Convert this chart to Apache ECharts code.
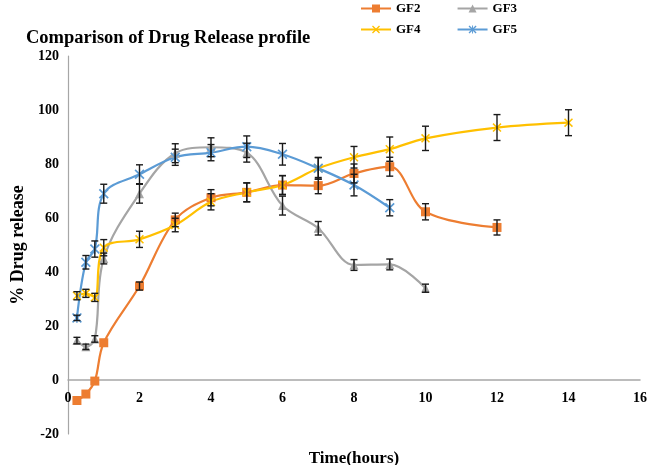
<!DOCTYPE html>
<html>
<head>
<meta charset="utf-8">
<script src="https://cdn.jsdelivr.net/npm/echarts@6/dist/echarts.min.js"></script>
<style>html,body{margin:0;padding:0;background:#fff}#c{width:654px;height:465px}</style>
</head>
<body>
<div id="c"></div>
<script>
var seriesNames = ['GF2', 'GF3', 'GF4', 'GF5'];
var gf2Time = [0.25, 0.5, 0.75, 1, 2, 3, 4, 5, 6, 7, 8, 9, 10, 12];
var gf2Vals = [-7.6, -5.2, -0.4, 13.8, 34.8, 59.3, 67.5, 69.5, 72.2, 72.0, 76.5, 79.0, 62.3, 56.5];
var gf2Err  = [0, 0, 0, 0, 1.5, 2.5, 3, 3.5, 3.5, 3, 3.5, 3.5, 3, 2.8];
var gf3Time = [0.25, 0.5, 0.75, 1, 2, 3, 4, 5, 6, 7, 8, 9, 10];
var gf3Vals = [14.6, 12.3, 15.2, 45.0, 69.0, 84.0, 86.2, 84.2, 64.6, 56.2, 42.6, 42.8, 34.0];
var gf3Err  = [1.2, 1, 1.2, 2, 3.5, 3.5, 3.5, 3.5, 3.5, 2.5, 2, 2, 1.5];
var gf4Time = [0.25, 0.5, 0.75, 1, 2, 3, 4, 5, 6, 7, 8, 9, 10, 12, 14];
var gf4Vals = [31.2, 32.1, 30.6, 49.0, 52.1, 57.4, 66.0, 69.5, 72.2, 78.4, 82.5, 85.5, 89.5, 93.5, 95.3];
var gf4Err  = [1.5, 1.5, 1.5, 3, 3, 2.5, 3, 3.5, 3.5, 4, 4, 4.5, 4.5, 4.8, 4.8];
var gf5Time = [0.25, 0.5, 0.75, 1, 2, 3, 4, 5, 6, 7, 8, 9];
var gf5Vals = [23.0, 43.6, 48.5, 69.0, 76.2, 82.5, 84.2, 86.4, 83.6, 78.4, 72.2, 63.8];
var gf5Err  = [1, 2.5, 3, 3.5, 3.5, 3, 3, 4, 4, 4, 4, 3];
var xTicks = [0, 2, 4, 6, 8, 10, 12, 14, 16];
var yTicks = [-20, 0, 20, 40, 60, 80, 100, 120];

var colors = ['#ED7D31', '#A5A5A5', '#FFC000', '#5B9BD5'];
var xSym = 'path://M0,1.2 L1.2,0 L5,3.8 L8.8,0 L10,1.2 L6.2,5 L10,8.8 L8.8,10 L5,6.2 L1.2,10 L0,8.8 L3.8,5 Z';
var aSym = 'path://M0,1.2 L1.2,0 L5,3.8 L8.8,0 L10,1.2 L6.2,5 L10,8.8 L8.8,10 L5,6.2 L1.2,10 L0,8.8 L3.8,5 Z M4.4,0 L5.6,0 L5.6,10 L4.4,10 Z';
var symbols = ['rect', 'triangle', xSym, aSym];
var symSizes = [9, 9, 9, 10];

var times = [gf2Time, gf3Time, gf4Time, gf5Time];
var vals = [gf2Vals, gf3Vals, gf4Vals, gf5Vals];
var errs = [gf2Err, gf3Err, gf4Err, gf5Err];

function pairs(t, v) { return t.map(function (x, i) { return [x, v[i]]; }); }

var font = 'Liberation Serif';
var series = [];
seriesNames.forEach(function (n, k) {
  series.push({
    name: n, type: 'line', smooth: 0.35,
    data: pairs(times[k], vals[k]),
    symbol: symbols[k], symbolSize: symSizes[k],
    lineStyle: { color: colors[k], width: 2.2 },
    itemStyle: { color: colors[k] },
    z: 2
  });
});
seriesNames.forEach(function (n, k) {
  var d = times[k].map(function (x, i) { return [x, vals[k][i] - errs[k][i], vals[k][i] + errs[k][i]]; })
    .filter(function (p) { return p[2] - p[1] > 0; });
  series.push({
    type: 'custom', name: n + ' err', silent: true, z: 5,
    data: d,
    encode: { x: 0, y: [1, 2] },
    renderItem: function (params, api) {
      var lo = api.coord([api.value(0), api.value(1)]);
      var hi = api.coord([api.value(0), api.value(2)]);
      var w = 3.5;
      var st = { stroke: '#1a1a1a', lineWidth: 1.4 };
      return { type: 'group', children: [
        { type: 'line', shape: { x1: lo[0], y1: lo[1], x2: hi[0], y2: hi[1] }, style: st },
        { type: 'line', shape: { x1: lo[0] - w, y1: lo[1], x2: lo[0] + w, y2: lo[1] }, style: st },
        { type: 'line', shape: { x1: hi[0] - w, y1: hi[1], x2: hi[0] + w, y2: hi[1] }, style: st }
      ] };
    }
  });
});

var chart = echarts.init(document.getElementById('c'));
chart.setOption({
  animation: false,
  color: colors,
  title: {
    text: 'Comparison of Drug Release profile', left: 21, top: 24,
    textStyle: { fontFamily: font, fontWeight: 'bold', fontSize: 18.5, color: '#000' }
  },
  legend: [
    { data: seriesNames.slice(0, 2), left: 355, top: -3, itemGap: 36, itemWidth: 30, itemHeight: 10,
      textStyle: { fontFamily: font, fontWeight: 'bold', fontSize: 13, color: '#000' } },
    { data: seriesNames.slice(2, 4), left: 355, top: 18, itemGap: 36, itemWidth: 30, itemHeight: 10,
      textStyle: { fontFamily: font, fontWeight: 'bold', fontSize: 13, color: '#000' } }
  ],
  grid: { left: 68, right: 14, top: 56, bottom: 31, containLabel: false, outerBoundsMode: 'none' },
  xAxis: {
    type: 'value', min: xTicks[0], max: xTicks[xTicks.length - 1], interval: 2,
    offset: -54,
    name: 'Time(hours)', nameLocation: 'middle', nameGap: 70,
    nameTextStyle: { fontFamily: font, fontWeight: 'bold', fontSize: 17, color: '#000' },
    axisLine: { onZero: false, lineStyle: { color: '#a6a6a6', width: 1.5 } },
    axisTick: { show: false },
    splitLine: { show: false },
    axisLabel: { fontFamily: font, fontWeight: 'bold', fontSize: 14, color: '#000', margin: 11 }
  },
  yAxis: {
    type: 'value', min: yTicks[0], max: yTicks[yTicks.length - 1], interval: 20,
    name: '% Drug release', nameLocation: 'middle', nameGap: 36,
    nameTextStyle: { fontFamily: font, fontWeight: 'bold', fontSize: 18, color: '#000' },
    axisLine: { show: true, onZero: false, lineStyle: { color: '#a6a6a6', width: 1.2 } },
    axisTick: { show: false },
    splitLine: { show: false },
    axisLabel: { fontFamily: font, fontWeight: 'bold', fontSize: 14, color: '#000', margin: 9 }
  },
  series: series
});
</script>
</body>
</html>
